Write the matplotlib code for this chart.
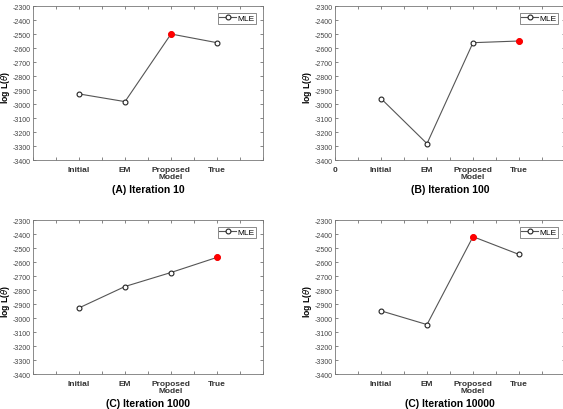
import matplotlib
matplotlib.use("Agg")
import matplotlib.pyplot as plt

categories = ["Initial", "EM", "Proposed\nModel", "True"]
titles = ["(A) Iteration 10", "(B) Iteration 100", "(C) Iteration 1000", "(C) Iteration 10000"]
vals_10 = [-2928, -2983, -2500, -2562]
vals_100 = [-2961, -3283, -2562, -2550]
vals_1000 = [-2928, -2775, -2675, -2567]
vals_10000 = [-2949, -3047, -2419, -2546]
best_idx = [2, 3, 3, 2]
yticks = list(range(-3400, -2299, 100))

plt.rcParams['font.family'] = ['Liberation Sans', 'DejaVu Sans']

fig = plt.figure(figsize=(5.63, 4.10), dpi=100)
W, H = 563, 410
positions = [(33, 7), (335, 7), (33, 221), (335, 221)]
aw, ah = 230, 154
series = [vals_10, vals_100, vals_1000, vals_10000]

for k, (pos, vals) in enumerate(zip(positions, series)):
    x0, ytop = pos
    ax = fig.add_axes([x0 / W, 1 - (ytop + ah) / H, aw / W, ah / H])
    xs = list(range(1, len(vals) + 1))
    ax.plot(xs, vals, color='#555555', lw=0.8, marker='o', ms=3.5,
            mfc='white', mec='#222222', mew=0.8, label='MLE')
    b = best_idx[k]
    ax.plot([xs[b]], [vals[b]], 'o', ms=4, color='red', mec='red')
    ax.set_xlim(0, 5)
    ax.set_ylim(-3400, -2300)
    ax.set_yticks(yticks)
    ax.set_yticklabels([str(t) for t in yticks], fontsize=5, color='#444444')
    ticks = [i * 0.5 for i in range(0, 11)]
    ax.set_xticks(ticks)
    labels = [''] * len(ticks)
    if k == 1:
        labels[0] = '0'
    for i, c in enumerate(categories):
        labels[2 * (i + 1)] = c
    ax.set_xticklabels(labels, fontsize=6, fontweight='bold', color='#333333',
                       linespacing=1.0, va='top')
    ax.tick_params(axis='both', direction='in', length=2.5, width=0.5, top=True, right=True,
                   colors='#555555')
    ax.tick_params(axis='y', pad=1.5, labelcolor='#444444')
    ax.tick_params(axis='x', pad=4, labelcolor='#333333')
    for s in ax.spines.values():
        s.set_color('#777777')
        s.set_linewidth(0.6)
    ax.set_ylabel(r'log L($\theta$)', fontsize=6.2, fontweight='bold')
    ax.yaxis.set_label_coords(-27.0 / aw, (ah - 80.0) / ah)
    ax.yaxis.label.set_va('center')
    leg = ax.legend(loc='upper right', fontsize=6, frameon=True, fancybox=False,
                    handlelength=2.0, borderpad=0.2, handletextpad=0.2,
                    borderaxespad=0.8)
    leg.get_frame().set_edgecolor('#555555')
    leg.get_frame().set_linewidth(0.6)
    ax.text(0.5, -29.0 / ah, titles[k], transform=ax.transAxes, ha='center', va='center',
            fontsize=7.5, fontweight='bold')

fig.savefig('out.png', dpi=100)
